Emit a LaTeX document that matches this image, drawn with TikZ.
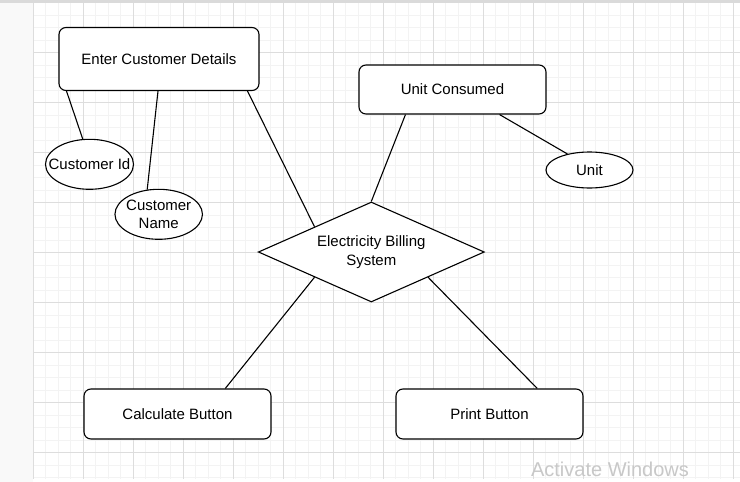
\documentclass[tikz,border=0pt]{standalone}
\usepackage{fontspec}
\setmainfont{Liberation Sans}
\usetikzlibrary{shapes.geometric,calc}
\definecolor{minorgrid}{HTML}{F3F3F3}
\definecolor{majorgrid}{HTML}{DDDDDD}
\definecolor{sidepanel}{HTML}{F9F9F9}
\definecolor{topbar}{HTML}{DADADA}
\definecolor{wmark}{HTML}{C8C8C8}
\newcommand{\zw}[1]{\makebox[0pt]{#1}}
\tikzset{
  ent/.style={draw=black, line width=1.1pt, rounded corners=7pt, fill=white,
    minimum width=187pt, minimum height=50pt, inner sep=0pt,
    font=\fontsize{15}{18.5}\selectfont},
  attr/.style={draw=black, line width=1.1pt, ellipse, fill=white, inner sep=0pt,
    align=center, font=\fontsize{15}{18.5}\selectfont},
  rel/.style={draw=black, line width=1.1pt, diamond, fill=white, inner sep=0pt,
    aspect=2.26, minimum width=226pt, minimum height=100pt,
    align=center, font=\fontsize{15}{18.5}\selectfont},
  conn/.style={draw=black, line width=1.1pt},
}
\begin{document}
\begin{tikzpicture}[x=1pt,y=-1pt]
\useasboundingbox (0,0) rectangle (740,482);
% background
\fill[white] (0,0) rectangle (740,482);
\fill[sidepanel] (0,0) rectangle (33.3,482);
\foreach \i in {0,...,56}{
  \pgfmathsetmacro{\xx}{33.3+12.5*\i}
  \draw[minorgrid, line width=0.8pt] (\xx,2.7) -- (\xx,479.3);
}
\foreach \j in {0,...,38}{
  \pgfmathsetmacro{\yy}{2.7+12.5*\j}
  \draw[minorgrid, line width=0.8pt] (33.3,\yy) -- (740,\yy);
}
\foreach \i in {0,...,14}{
  \pgfmathsetmacro{\xx}{33.3+50*\i}
  \draw[majorgrid, line width=0.8pt] (\xx,2.7) -- (\xx,479.3);
}
\foreach \j in {0,...,9}{
  \pgfmathsetmacro{\yy}{2.7+50*\j}
  \draw[majorgrid, line width=0.8pt] (33.3,\yy) -- (740,\yy);
}
\fill[topbar] (0,0) rectangle (740,2.7);

% nodes
\node[ent, minimum width=200pt, minimum height=63pt] (ecd) at (159,59) {Enter Customer Details};
\node[ent, minimum height=49pt] (uc) at (452.5,89.5) {Unit Consumed};
\node[attr, minimum width=87pt, minimum height=36pt] (unit) at (589.5,170) {\zw{Unit}};
\node[attr, minimum width=88pt, minimum height=50pt] (cid) at (89.5,164.3) {\zw{Customer Id}};
\node[attr, minimum width=87.5pt, minimum height=50pt] (cnm) at (158.7,214.3) {\zw{Customer}\\\zw{Name}};
\node[rel] (ebs) at (371.3,252) {\zw{Electricity Billing}\\\zw{System}};
\node[ent] (calc) at (177.5,414) {Calculate Button};
\node[ent] (prt) at (489.5,414) {Print Button};

% connectors
\draw[conn] ($(ecd.south west)!0.04!(ecd.south east)$) -- (cid.105);
\draw[conn] ($(ecd.south west)!0.495!(ecd.south east)$) -- (cnm.115);
\draw[conn] ($(ecd.south west)!0.94!(ecd.south east)$) -- ($(ebs.west)!0.5!(ebs.north)$);
\draw[conn] ($(uc.south west)!0.25!(uc.south east)$) -- (ebs.north);
\draw[conn] ($(uc.south west)!0.75!(uc.south east)$) -- (unit.144);
\draw[conn] ($(ebs.west)!0.5!(ebs.south)$) -- ($(calc.north west)!0.754!(calc.north east)$);
\draw[conn] ($(ebs.east)!0.5!(ebs.south)$) -- ($(prt.north west)!0.754!(prt.north east)$);

% watermark
\node[text=wmark, font=\fontsize{20}{23}\selectfont, anchor=base, inner sep=0pt] (wm) at (610,476) {Activate Windows};
\end{tikzpicture}
\end{document}
